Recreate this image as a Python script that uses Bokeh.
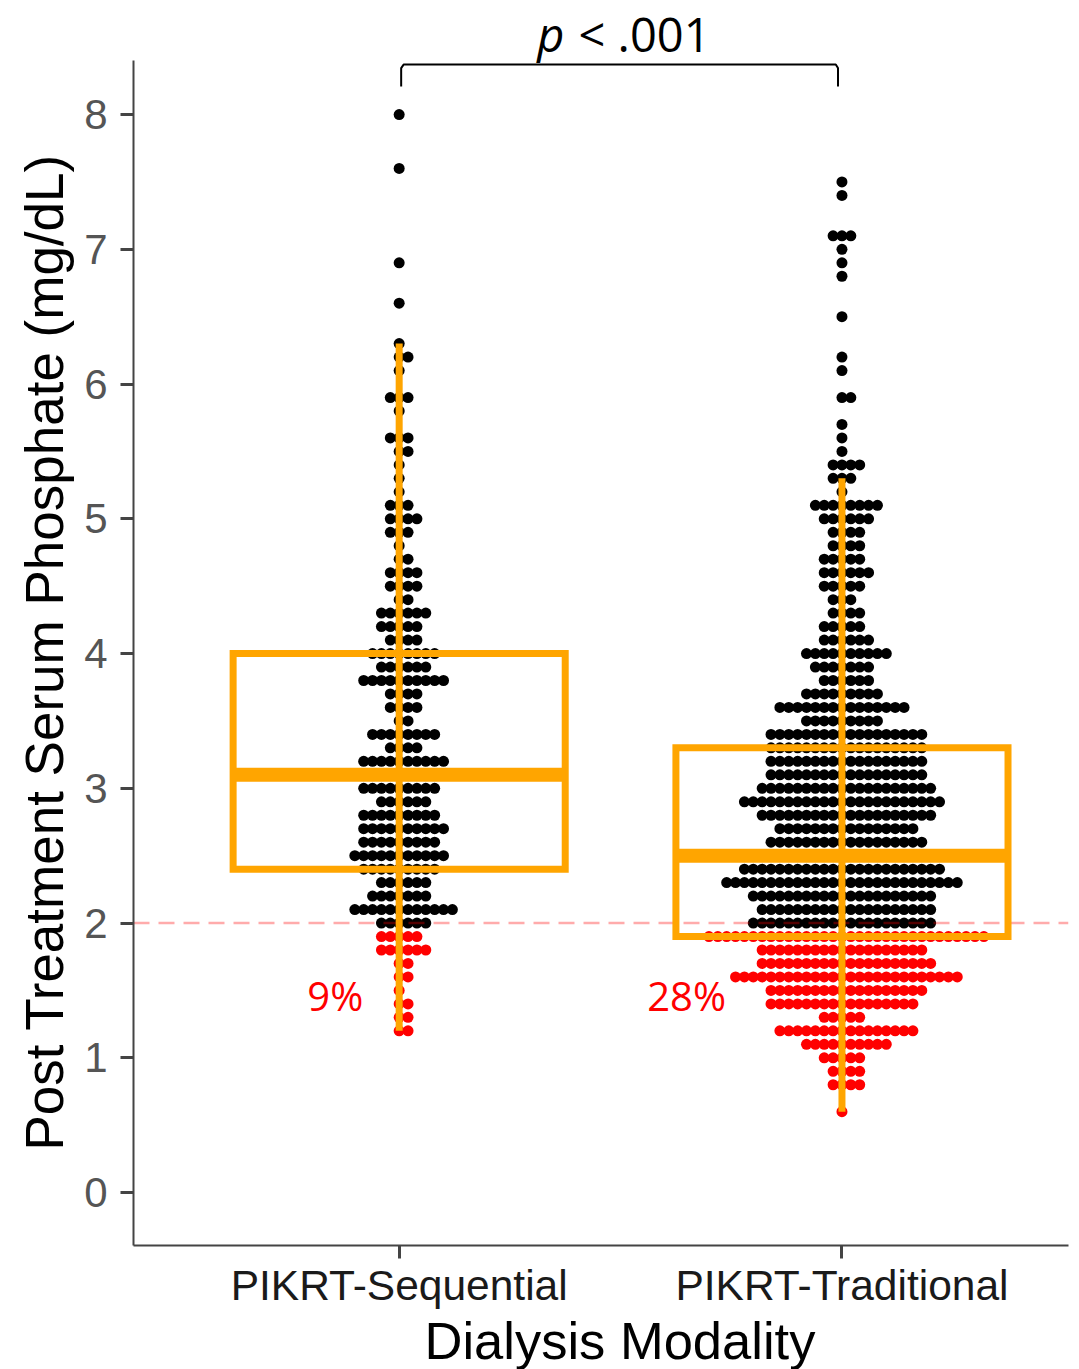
from bokeh.plotting import figure
from bokeh.models import FixedTicker, ColumnDataSource, Title
from bokeh.core.properties import value
from bokeh.embed import file_html
from bokeh.resources import INLINE

categories = ["PIKRT-Sequential", "PIKRT-Traditional"]
y_ticks = [0, 1, 2, 3, 4, 5, 6, 7, 8]

seq_values = [8.0, 7.6, 6.9, 6.6, 6.3, 6.2, 6.1, 5.9, 5.8, 5.6, 5.5, 5.4, 5.3, 5.2, 5.1, 5.0, 4.9, 4.8, 4.7, 4.6,
              4.5, 4.4, 4.3, 4.2, 4.1, 4.0, 3.9, 3.8, 3.7, 3.6, 3.5, 3.4, 3.3, 3.2, 3.1, 3.0, 2.9, 2.8, 2.7, 2.6,
              2.5, 2.4, 2.3, 2.2, 2.1, 2.0, 1.9, 1.8, 1.7, 1.6, 1.5, 1.4, 1.3, 1.2]
seq_counts = [1, 1, 1, 1, 1, 2, 1, 3, 1, 3, 2, 1, 1, 1, 3, 4, 3, 1, 2, 4,
              4, 2, 6, 5, 4, 8, 6, 10, 4, 4, 2, 8, 4, 10, 8, 9, 6, 9, 10, 9,
              11, 9, 6, 7, 12, 6, 5, 6, 2, 2, 1, 2, 2, 2]

trad_values = [7.5, 7.4, 7.1, 7.0, 6.9, 6.8, 6.5, 6.2, 6.1, 5.9, 5.7, 5.6, 5.5, 5.4, 5.3, 5.2, 5.1, 5.0, 4.9, 4.8,
               4.7, 4.6, 4.5, 4.4, 4.3, 4.2, 4.1, 4.0, 3.9, 3.8, 3.7, 3.6, 3.5, 3.4, 3.3, 3.2, 3.1, 3.0, 2.9, 2.8,
               2.7, 2.6, 2.5, 2.4, 2.3, 2.2, 2.1, 2.0, 1.9, 1.8, 1.7, 1.6, 1.5, 1.4, 1.3, 1.2, 1.1, 1.0, 0.9, 0.8, 0.6]
trad_counts = [1, 1, 3, 1, 1, 1, 1, 1, 1, 2, 1, 1, 1, 4, 3, 1, 8, 6, 4, 4,
               5, 6, 5, 3, 4, 5, 6, 10, 7, 6, 9, 15, 9, 18, 18, 18, 18, 20, 23, 20,
               16, 18, 20, 23, 27, 21, 20, 21, 32, 19, 20, 26, 18, 17, 5, 16, 10, 5, 4, 4, 1]

box_low = [2.4, 1.9]
box_mid = [3.1, 2.5]
box_high = [4.0, 3.3]
whisker_low = [1.2, 0.6]
whisker_high = [6.3, 5.3]
threshold = 2.0

ORANGE = "#FFA500"
DOT_STEP = 0.02003
BOX_HALF = 0.375
X0, X1 = 0.4, 2.5116

p = figure(width=1073, height=1369, output_backend="svg", toolbar_location=None,
           x_range=(X0, X1), y_range=(-0.393, 8.787),
           min_border_left=133, min_border_right=5, min_border_top=8, min_border_bottom=124,
           frame_width=935, frame_height=1237)
p.background_fill_color = "white"
p.outline_line_color = None
p.grid.visible = False
p.title = None

def dots(group, values, counts):
    xs, ys, cols = [], [], []
    for v, n in zip(values, counts):
        for i in range(n):
            xs.append(group + (i - (n - 1) // 2) * DOT_STEP)
            ys.append(v)
            cols.append("#FF0000" if v < threshold else "#000000")
    return dict(x=xs, y=ys, c=cols)

for g, vals, cnts in ((1, seq_values, seq_counts), (2, trad_values, trad_counts)):
    p.scatter("x", "y", source=ColumnDataSource(dots(g, vals, cnts)), size=11, color="c", line_color=None)

p.line([X0, X1], [threshold, threshold], line_color="#FF0000", line_alpha=0.33, line_width=2.5, line_dash="16 9")

groups = [1, 2]
p.segment(groups, whisker_low, groups, whisker_high, line_color=ORANGE, line_width=7)
p.quad(left=[g - BOX_HALF for g in groups], right=[g + BOX_HALF for g in groups], bottom=box_low, top=box_high,
       fill_color=None, line_color=ORANGE, line_width=7, line_join="miter")
p.segment([g - BOX_HALF for g in groups], box_mid, [g + BOX_HALF for g in groups], box_mid,
          line_color=ORANGE, line_width=14)

# significance bracket
p.line([1.0045, 1.0045, 1.010, 1.986, 1.991, 1.991], [8.208, 8.345, 8.371, 8.371, 8.345, 8.208],
       line_color="black", line_width=2)
p.text([1.312], [8.60], text=["p"], text_font=value("Open Sans"), text_font_style="italic", text_font_size="47px",
       text_color="black", text_baseline="middle", text_align="left")
p.text([1.405], [8.60], text=["< .001"], text_font=value("Open Sans"), text_font_size="47px",
       text_color="black", text_baseline="middle", text_align="left")

p.text([0.919, 1.738], [1.462, 1.462], text=["9%", "28%"], text_font=value("Open Sans"), text_font_size="40px",
       text_color="#FF0000", text_baseline="middle", text_align="right")

for ax, color in ((p.xaxis[0], "#1A1A1A"), (p.yaxis[0], "#555555")):
    ax.axis_line_color = "#444444"
    ax.axis_line_width = 2
    ax.major_tick_line_color = "#444444"
    ax.major_tick_line_width = 3
    ax.major_tick_out = 13
    ax.major_tick_in = 0
    ax.minor_tick_line_color = None
    ax.major_label_text_font = "Liberation Sans"
    ax.major_label_text_color = color

p.xaxis[0].ticker = FixedTicker(ticks=groups)
p.xaxis[0].major_label_overrides = dict(zip(groups, categories))
p.xaxis[0].major_label_text_font_size = "42.5px"
p.xaxis[0].major_label_standoff = 3
p.xaxis[0].bounds = (X0, X1)

p.yaxis[0].ticker = FixedTicker(ticks=y_ticks)
p.yaxis[0].major_label_text_font_size = "42px"
p.yaxis[0].major_label_standoff = 13
p.yaxis[0].bounds = (-0.393, 8.40)

# axis titles sit off-centre relative to the panel, so they are placed as side titles with offsets
p.add_layout(Title(text="Dialysis Modality", text_font="Liberation Sans", text_font_size="52.5px",
                   text_font_style="normal", text_color="black", align="left", offset=291, standoff=-6), "below")
p.add_layout(Title(text="Post Treatment Serum Phosphate (mg/dL)", text_font="Liberation Sans", text_font_size="53px",
                   text_font_style="normal", text_color="black", align="left", offset=95, standoff=15), "left")

open("out.html", "w").write(file_html(p, INLINE))
